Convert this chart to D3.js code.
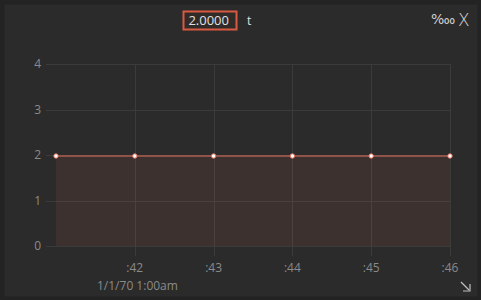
<!DOCTYPE html>
<html>
<head>
<meta charset="utf-8">
<script src="https://cdn.jsdelivr.net/npm/d3@7"></script>
<style>
  html, body { margin: 0; padding: 0; background: #232323; }
  svg { display: block; font-family: "Open Sans", "Noto Sans", sans-serif; }
  .axis text { fill: #8a8a8a; font-size: 12px; }
  .grid line { stroke: #3b3b3b; stroke-width: 1; }
</style>
</head>
<body>
<svg id="chart" width="481" height="300"></svg>
<script>
// seconds after 1:00am
const seconds = [41, 42, 43, 44, 45, 46];
const values = [2, 2, 2, 2, 2, 2];
const xTicks = [42, 43, 44, 45, 46];
const xTickLabels = [":42", ":43", ":44", ":45", ":46"];
const yTicks = [0, 1, 2, 3, 4];
const dateLabel = "1/1/70 1:00am";
const currentValue = "2.0000";
const unitLabel = "t";

const svg = d3.select("#chart");

// panel
svg.append("rect")
  .attr("x", 4.5).attr("y", 4.5)
  .attr("width", 473).attr("height", 292)
  .attr("fill", "#2b2b2b");

const x = d3.scaleLinear().domain([41, 46]).range([56, 450]);
const y = d3.scaleLinear().domain([0, 4]).range([246, 64]);
const x0 = x.invert(46);

// horizontal grid
svg.append("g").attr("class", "grid")
  .selectAll("line").data(yTicks).enter().append("line")
  .attr("x1", x(x0)).attr("x2", x(46))
  .attr("y1", d => Math.round(y(d)) + 0.5)
  .attr("y2", d => Math.round(y(d)) + 0.5);

// vertical grid, going past the baseline like ticks
svg.append("g").attr("class", "grid")
  .selectAll("line").data(xTicks).enter().append("line")
  .attr("x1", d => Math.round(x(d)) + 0.5)
  .attr("x2", d => Math.round(x(d)) + 0.5)
  .attr("y1", y(4)).attr("y2", y(0) + 10);

const pts = seconds.map((s, i) => ({ s: s, v: values[i] }));

const area = d3.area()
  .x(d => x(d.s))
  .y0(y(0))
  .y1(d => y(d.v) + 1);

svg.append("path")
  .datum(pts)
  .attr("fill", "#e0705a")
  .attr("fill-opacity", 0.1)
  .attr("d", area);

const line = d3.line()
  .x(d => x(d.s))
  .y(d => y(d.v) + 1);

svg.append("path")
  .datum(pts)
  .attr("fill", "none")
  .attr("stroke", "#e5735f")
  .attr("stroke-width", 1.2)
  .attr("d", line);

svg.append("g")
  .selectAll("circle").data(pts).enter().append("circle")
  .attr("cx", d => x(d.s))
  .attr("cy", d => y(d.v) + 1)
  .attr("r", 2.2)
  .attr("fill", "#ffffff")
  .attr("stroke", "#e5735f")
  .attr("stroke-width", 1);

// y labels
svg.append("g").attr("class", "axis")
  .selectAll("text").data(yTicks).enter().append("text")
  .attr("x", 41)
  .attr("y", d => y(d))
  .attr("dy", "0.35em")
  .attr("text-anchor", "end")
  .text(d => d);

// x labels
svg.append("g").attr("class", "axis")
  .selectAll("text").data(xTicks).enter().append("text")
  .attr("x", d => x(d))
  .attr("y", 272)
  .attr("text-anchor", "middle")
  .text((d, i) => xTickLabels[i]);

svg.append("text")
  .attr("x", 97).attr("y", 290)
  .attr("fill", "#8a8a8a")
  .attr("font-size", 12)
  .text(dateLabel);

// header value box
svg.append("rect")
  .attr("x", 183.5).attr("y", 11.5)
  .attr("width", 53).attr("height", 18)
  .attr("fill", "#302a29")
  .attr("stroke", "#d95a40")
  .attr("stroke-width", 2);

svg.append("text")
  .attr("x", 229).attr("y", 25)
  .attr("text-anchor", "end")
  .attr("fill", "#e0e0e0")
  .attr("font-size", 13)
  .text(currentValue);

svg.append("text")
  .attr("x", 247).attr("y", 25)
  .attr("fill", "#e0e0e0")
  .attr("font-size", 12)
  .text(unitLabel);

svg.append("text")
  .attr("x", 431).attr("y", 24)
  .attr("fill", "#d0d0d0")
  .attr("font-size", 14)
  .attr("font-family", "DejaVu Sans")
  .text("\u2031");

svg.append("text")
  .attr("x", 459).attr("y", 26)
  .attr("fill", "#d0d0d0")
  .attr("font-size", 18)
  .attr("font-weight", 300)
  .text("X");

// resize corner
const corner = svg.append("g")
  .attr("stroke", "#bdbdbd").attr("stroke-width", 1.2).attr("fill", "none");
corner.append("path").attr("d", "M461,282 L469,290");
corner.append("path").attr("d", "M470,284 L470,291 L463,291");
</script>
</body>
</html>
